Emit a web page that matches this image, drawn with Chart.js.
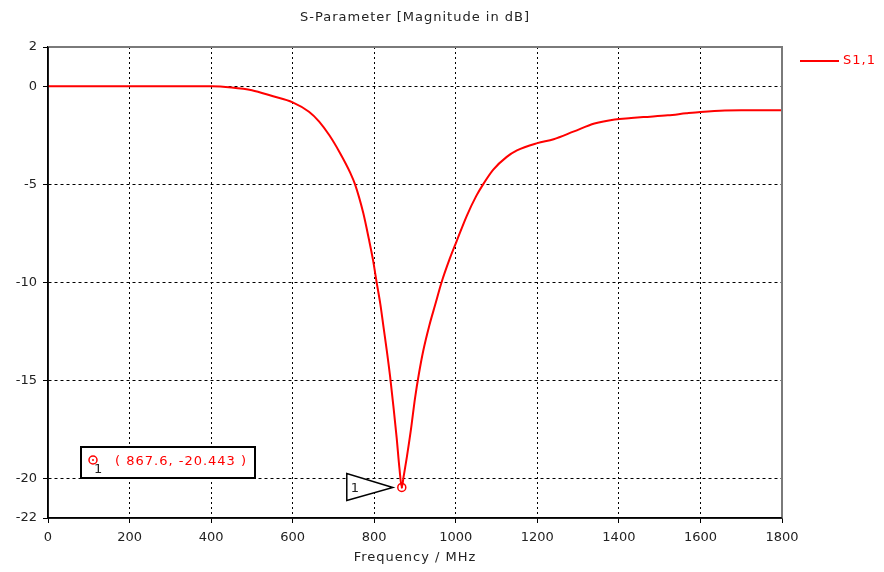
<!DOCTYPE html>
<html>
<head>
<meta charset="utf-8">
<title>S-Parameter</title>
<script src="https://cdn.jsdelivr.net/npm/chart.js@4.4.1/dist/chart.umd.min.js"></script>
<style>
  body { margin: 0; background: #fff; }
  #wrap { width: 884px; height: 572px; }
</style>
</head>
<body>
<div id="wrap"><canvas id="chart" width="884" height="572"></canvas></div>
<script>
// values
const freqs = [0, 100, 200, 300, 400, 450, 500, 550, 600, 640, 665, 690, 716, 741, 753, 773, 787, 797, 806, 815,
  823, 831, 839, 847, 855, 862, 867.6, 872, 880, 890, 900, 910, 920, 935, 950, 965, 985, 1002, 1027, 1050, 1067, 1092,
  1125, 1150, 1200, 1240, 1290, 1340, 1390, 1430, 1460, 1520, 1565, 1600, 1660, 1700, 1800];
const s11 = [0, 0, 0, 0, 0, -0.06, -0.2, -0.5, -0.82, -1.3, -1.8, -2.5, -3.4, -4.4, -5.0, -6.45, -7.8, -8.85, -10.0, -11.1,
  -12.3, -13.5, -14.8, -16.3, -17.9, -19.5, -20.443, -19.9, -18.9, -17.5, -15.9, -14.6, -13.5, -12.2, -11.1, -10.0, -8.8, -7.9, -6.6, -5.6, -5.0, -4.25,
  -3.6, -3.27, -2.9, -2.7, -2.3, -1.9, -1.69, -1.62, -1.57, -1.48, -1.38, -1.31, -1.23, -1.22, -1.22];
const xTicksStep = 200;
const yTicks = [2, 0, -5, -10, -15, -20, -22];
const markerFreq = 867.6;
const markerVal = -20.443;
const markerText = '( 867.6, -20.443 )';
const seriesName = 'S1,1';
const chartTitle = 'S-Parameter [Magnitude in dB]';
const xTitle = 'Frequency / MHz';

const FONT = 'DejaVu Sans';

// title, frame, legend and the marker annotation
const extras = {
  id: 'extras',
  afterDatasetsDraw(chart) {
    const ctx = chart.ctx;
    const a = chart.chartArea;
    const xs = chart.scales.x, ys = chart.scales.y;
    ctx.save();

    // gray top/right frame
    ctx.strokeStyle = '#7a7a7a';
    ctx.lineWidth = 2;
    ctx.beginPath();
    ctx.moveTo(a.left, a.top);
    ctx.lineTo(a.right, a.top);
    ctx.lineTo(a.right, a.bottom);
    ctx.stroke();

    // black left/bottom axes
    ctx.strokeStyle = '#000';
    ctx.lineWidth = 1.5;
    ctx.beginPath();
    ctx.moveTo(a.left, a.top);
    ctx.lineTo(a.left, a.bottom);
    ctx.lineTo(a.right, a.bottom);
    ctx.stroke();

    // titles
    ctx.letterSpacing = '1px';
    ctx.fillStyle = '#222';
    ctx.font = '13px ' + FONT;
    ctx.textAlign = 'center';
    ctx.textBaseline = 'middle';
    ctx.fillText(chartTitle, (a.left + a.right) / 2, 18);
    ctx.fillText(xTitle, (a.left + a.right) / 2, 558);

    // legend
    ctx.strokeStyle = '#ff0000';
    ctx.lineWidth = 2;
    ctx.beginPath();
    ctx.moveTo(a.right + 18, 61);
    ctx.lineTo(a.right + 57, 61);
    ctx.stroke();
    ctx.fillStyle = '#ff0000';
    ctx.textAlign = 'left';
    ctx.fillText(seriesName, a.right + 61, 61);

    // marker on the curve
    const mx = xs.getPixelForValue(markerFreq);
    const my = ys.getPixelForValue(markerVal);
    ctx.lineWidth = 1.5;
    ctx.beginPath();
    ctx.arc(mx, my, 4, 0, Math.PI * 2);
    ctx.stroke();
    ctx.beginPath();
    ctx.arc(mx, my, 1, 0, Math.PI * 2);
    ctx.fill();

    // triangle pointer
    ctx.strokeStyle = '#000';
    ctx.fillStyle = '#fff';
    ctx.lineWidth = 1.5;
    ctx.beginPath();
    ctx.moveTo(mx - 9, my);
    ctx.lineTo(mx - 55, my - 14);
    ctx.lineTo(mx - 55, my + 13);
    ctx.closePath();
    ctx.fill();
    ctx.stroke();
    ctx.fillStyle = '#222';
    ctx.fillText('1', mx - 51, my + 1);

    // readout box
    const bx = a.left + 33, by = a.top + 400;
    ctx.fillStyle = '#fff';
    ctx.fillRect(bx, by, 174, 31);
    ctx.strokeStyle = '#000';
    ctx.lineWidth = 2;
    ctx.strokeRect(bx, by, 174, 31);
    ctx.strokeStyle = '#ff0000';
    ctx.fillStyle = '#ff0000';
    ctx.lineWidth = 1.5;
    ctx.beginPath();
    ctx.arc(bx + 12, by + 13, 4, 0, Math.PI * 2);
    ctx.stroke();
    ctx.beginPath();
    ctx.arc(bx + 12, by + 13, 1, 0, Math.PI * 2);
    ctx.fill();
    ctx.fillText(markerText, bx + 34, by + 15);
    ctx.fillStyle = '#222';
    ctx.fillText('1', bx + 13, by + 23);

    ctx.restore();
  }
};

new Chart(document.getElementById('chart'), {
  type: 'line',
  data: {
    datasets: [{
      label: seriesName,
      data: freqs.map((f, i) => ({ x: f, y: s11[i] })),
      borderColor: '#ff0000',
      borderWidth: 2,
      pointRadius: 0,
      cubicInterpolationMode: 'monotone',
      fill: false
    }]
  },
  options: {
    responsive: false,
    animation: false,
    layout: { padding: { top: 47, right: 102, left: 0, bottom: 0 } },
    plugins: { legend: { display: false }, title: { display: false }, tooltip: { enabled: false } },
    scales: {
      x: {
        type: 'linear',
        min: 0,
        max: 1800,
        afterFit(scale) { scale.height = 54; },
        ticks: { stepSize: xTicksStep, color: '#222', font: { family: FONT, size: 13 }, padding: 7, maxRotation: 0,
          callback: v => String(v) },
        grid: {
          color: ctx => (ctx.tick && (ctx.tick.value === 0 || ctx.tick.value === 1800)) ? 'rgba(0,0,0,0)' : '#000',
          lineWidth: 1,
          tickColor: '#000',
          tickLength: 5,
          tickBorderDash: []
        },
        border: { display: true, color: '#000', width: 1.5, dash: [2, 3] }
      },
      y: {
        type: 'linear',
        min: -22,
        max: 2,
        afterFit(scale) { scale.width = 48; },
        afterBuildTicks(scale) { scale.ticks = yTicks.map(v => ({ value: v })); },
        ticks: { color: '#222', font: { family: FONT, size: 13 }, padding: 6 },
        grid: {
          color: ctx => (ctx.tick && (ctx.tick.value === 2 || ctx.tick.value === -22)) ? 'rgba(0,0,0,0)' : '#000',
          lineWidth: 1,
          tickColor: '#000',
          tickLength: 5,
          tickBorderDash: []
        },
        border: { display: true, color: '#000', width: 1.5, dash: [3, 3] }
      }
    }
  },
  plugins: [extras]
});
</script>
</body>
</html>
